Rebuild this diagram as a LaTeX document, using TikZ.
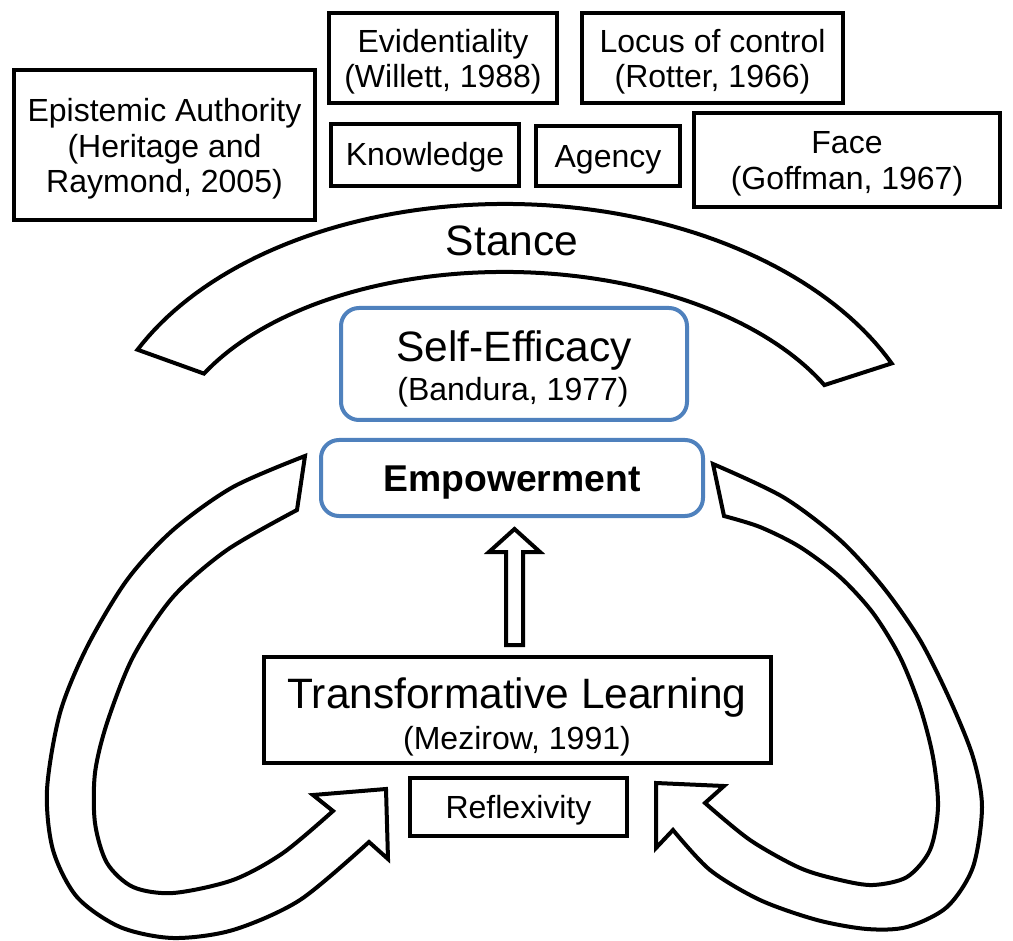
\documentclass[tikz,border=0pt]{standalone}
\usepackage{fontspec}
\setmainfont{Liberation Sans}
\definecolor{ofblue}{HTML}{4F81BD}
\tikzset{
  bbox/.style={draw=black, line width=4.5pt, fill=white, inner sep=0pt},
  rbox/.style={draw=ofblue, line width=4pt, fill=white, rounded corners=18pt, inner sep=0pt},
  txt/.style={inner sep=0pt, font=\fontsize{32}{35.5}\selectfont, align=center},
  big/.style={inner sep=0pt, font=\fontsize{42.5}{47}\selectfont},
  blk/.style={draw=black, line width=4pt, fill=white, line join=miter},
}
\begin{document}
\begin{tikzpicture}[x=1pt,y=-1pt]
\useasboundingbox (0,0) rectangle (1013,941);

% Stance block arc
\begin{scope}[rotate around={-1.2:(513,470)}]
\draw[blk] plot[domain=155:25.5,samples=80] ({513+417*cos(\x)},{470-266*sin(\x)})
  -- plot[domain=27.5:153,samples=80] ({513+349*cos(\x)},{470-198*sin(\x)}) -- cycle;
\end{scope}

% left curved arrow
\draw[blk] plot[smooth] coordinates {(305,456) (233,487) (173,530) (127,580) (87,647) (60,713) (47,790) (53,850) (77,897) (120,927) (173,938) (233,930) (300,900) (369,842)}
  -- (388,859) -- (386,789) -- (313,795)
  -- plot[smooth] coordinates {(333,811) (283,853) (233,880) (173,893) (133,887) (107,863) (95,823) (95,773) (107,723) (133,657) (173,597) (227,550) (297,510)} -- cycle;

% right curved arrow
\draw[blk] plot[smooth] coordinates {(713,464) (783,497) (840,540) (883,587) (920,640) (950,700) (973,757) (982,807) (973,867) (947,907) (907,927) (867,929) (817,920) (760,900) (710,870) (673,830)}
  -- (656,848) -- (656,783) -- (724,786)
  -- plot[smooth] coordinates {(705,803) (750,840) (800,868) (840,880) (873,885) (907,877) (930,850) (938,807) (933,757) (920,707) (900,657) (873,613) (840,577) (800,547) (760,527) (724,516)} -- cycle;

% up block arrow
\draw[blk] (506,645) -- (506,552) -- (489,552) -- (514.5,529) -- (540,552) -- (523,552) -- (523,645) -- cycle;

% top boxes
\node[bbox, minimum width=301pt, minimum height=150pt] (epi) at (164.5,145) {};
\node[txt] (epit) at (164.5,149) {Epistemic Authority\\(Heritage and\\Raymond, 2005)};
\node[bbox, minimum width=228pt, minimum height=90pt] (evi) at (443,58) {};
\node[txt] (evit) at (443,61.5) {Evidentiality\\(Willett, 1988)};
\node[bbox, minimum width=261pt, minimum height=90pt] (loc) at (712.5,58) {};
\node[txt] (loct) at (712.5,61.5) {Locus of control\\(Rotter, 1966)};
\node[bbox, minimum width=188pt, minimum height=62pt] (kno) at (425,155) {};
\node[txt, anchor=base] (knot) at (425,166) {Knowledge};
\node[bbox, minimum width=144pt, minimum height=60pt] (age) at (608,156) {};
\node[txt, anchor=base] (aget) at (608,168) {Agency};
\node[bbox, minimum width=306pt, minimum height=94pt] (fac) at (847,160) {};
\node[txt] (fact) at (847,164) {Face\\(Goffman, 1967)};

\node[big, anchor=base] (sta) at (512,256) {Stance};

% self-efficacy
\node[rbox, minimum width=346pt, minimum height=112pt] (se) at (514,364) {};
\node[big, anchor=base] (set) at (514,362) {Self-Efficacy};
\node[txt, anchor=base] (sec) at (513,401) {(Bandura, 1977)};

% empowerment
\node[rbox, minimum width=382pt, minimum height=76pt] (emp) at (512,478) {};
\node[inner sep=0pt, font=\fontsize{37.3}{42}\selectfont\bfseries, anchor=base] (empt) at (512,491) {Empowerment};

% transformative learning
\node[bbox, minimum width=507pt, minimum height=106pt] (tl) at (517.5,710) {};
\node[big, anchor=base] (tlt) at (517,708) {Transformative Learning};
\node[txt, anchor=base] (tlc) at (517,749) {(Mezirow, 1991)};

% reflexivity
\node[bbox, minimum width=217pt, minimum height=58pt] (ref) at (518.5,807) {};
\node[txt, anchor=base] (reft) at (518.5,818) {Reflexivity};
\end{tikzpicture}
\end{document}
